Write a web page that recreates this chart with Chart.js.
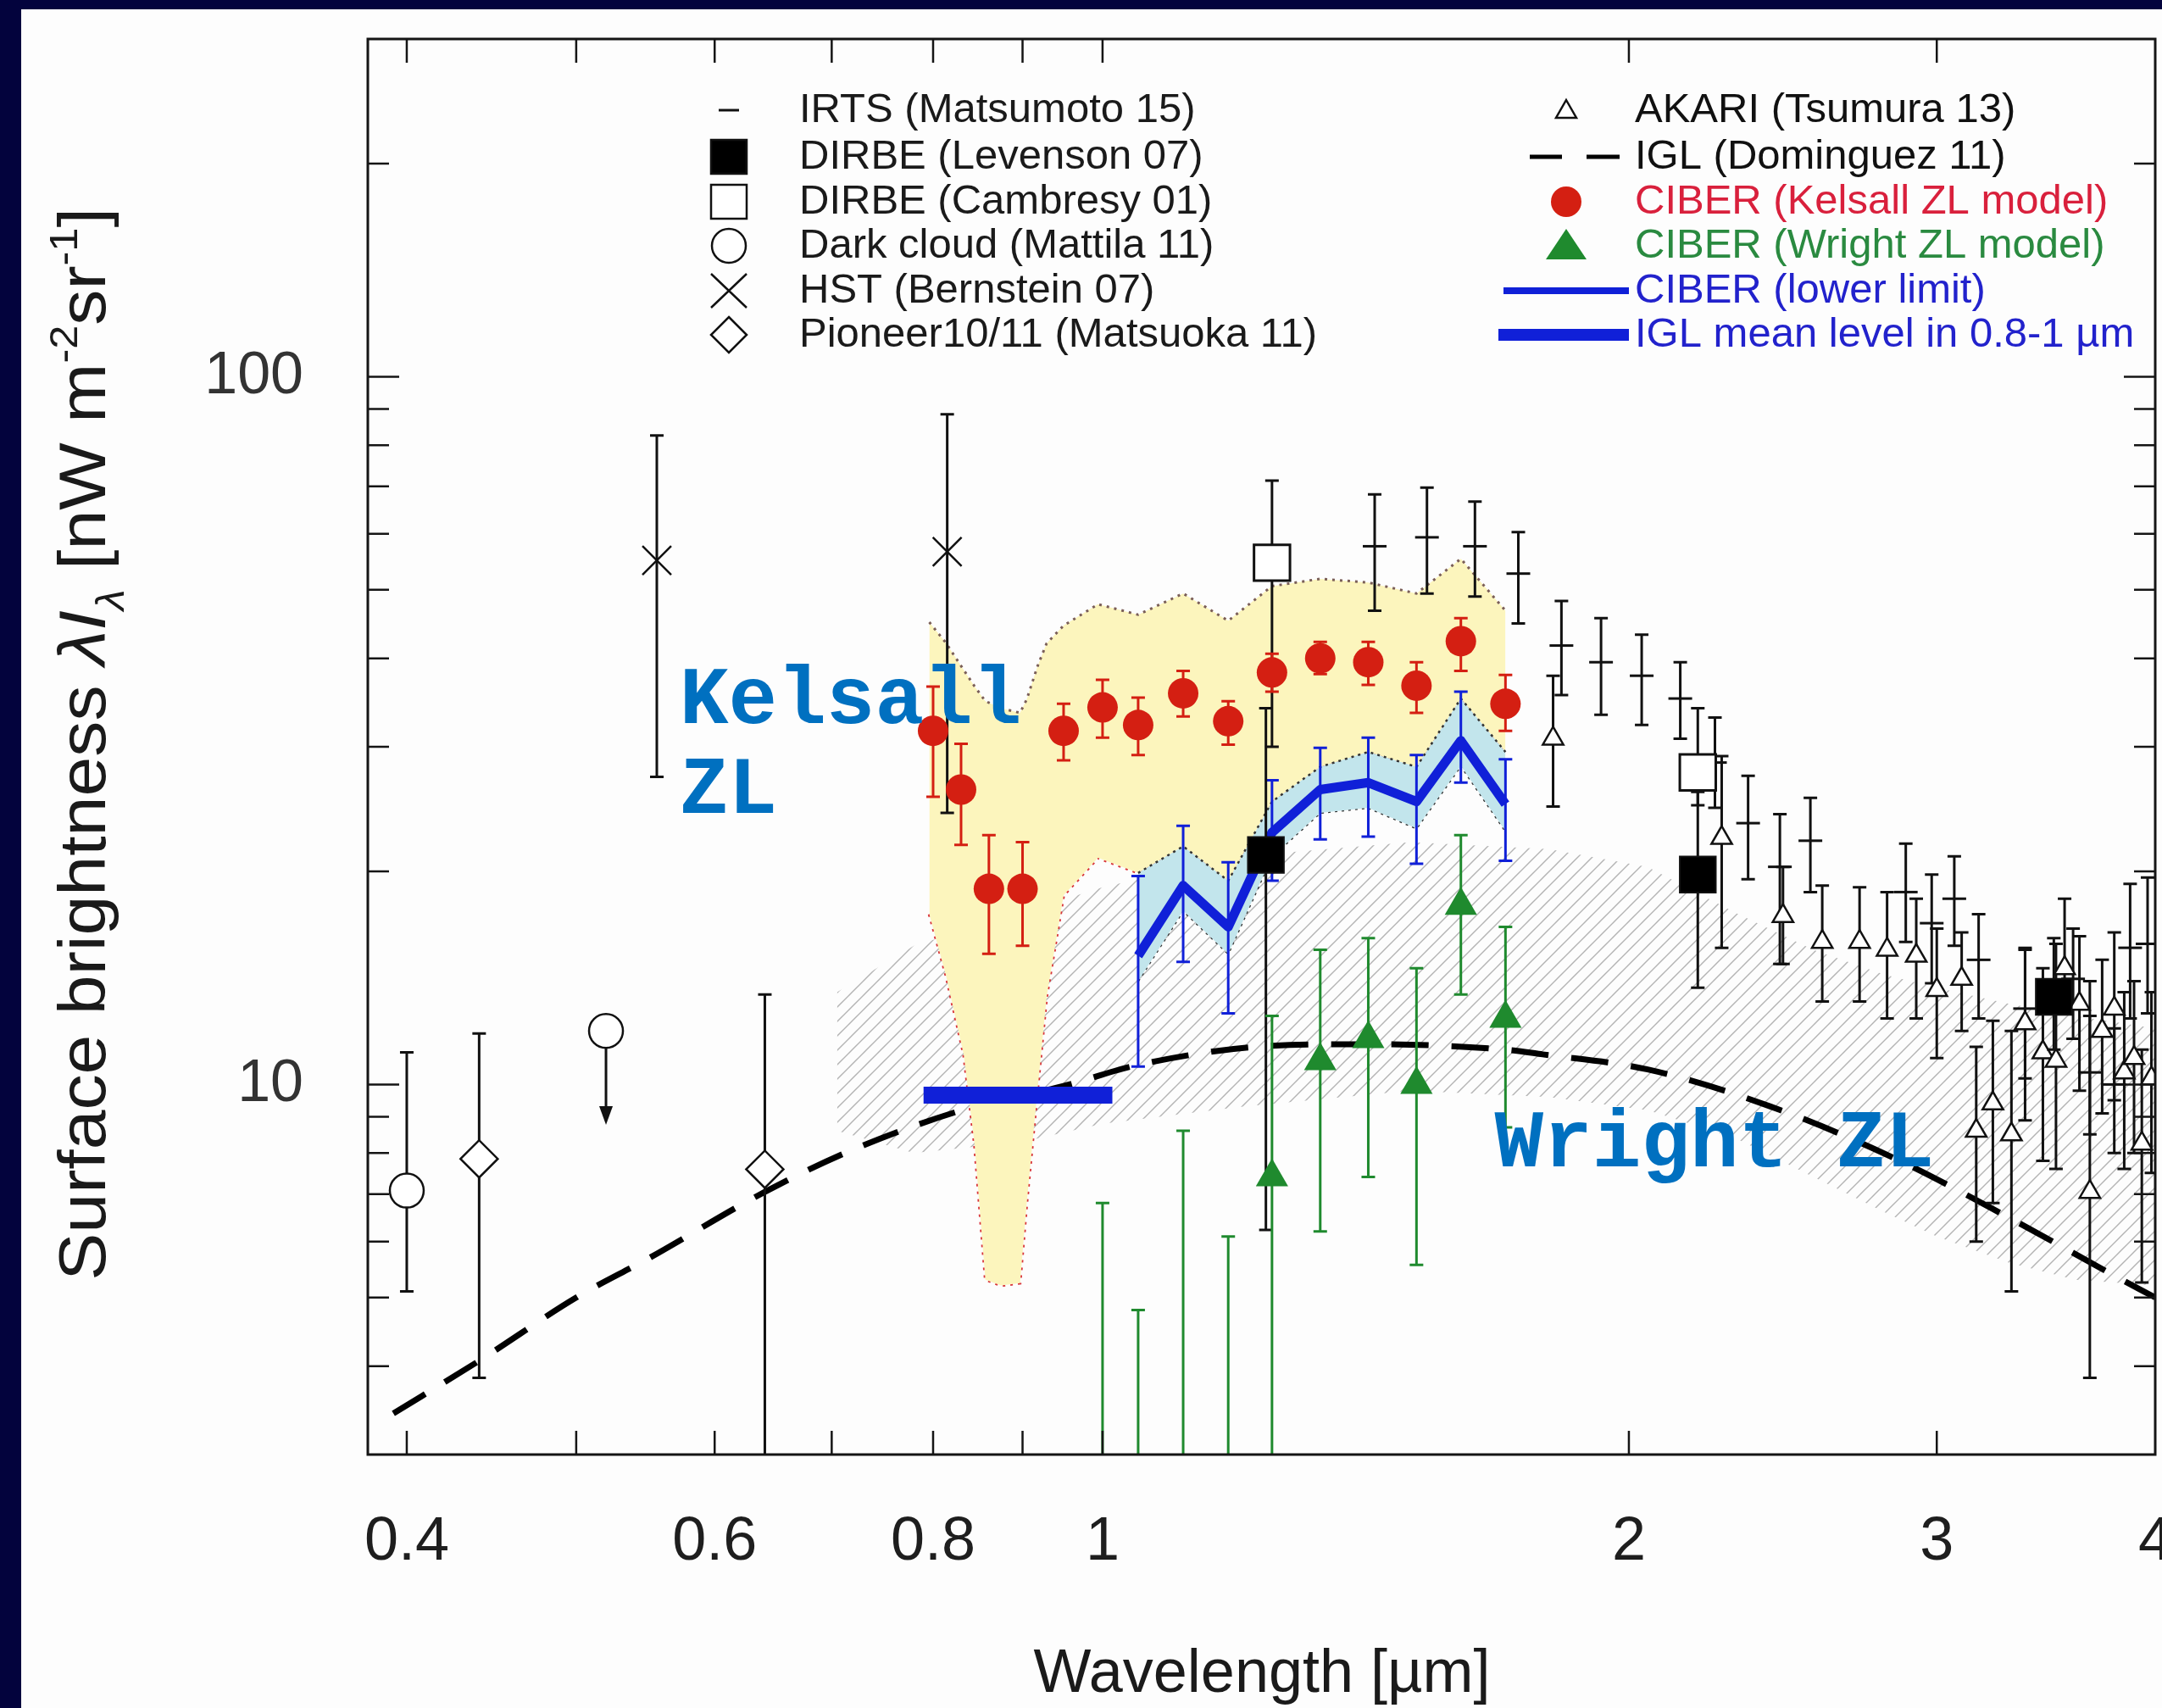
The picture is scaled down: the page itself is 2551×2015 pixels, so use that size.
<!DOCTYPE html>
<html>
<head>
<meta charset="utf-8">
<script src="https://cdn.jsdelivr.net/npm/chart.js@4.4.0/dist/chart.umd.min.js"></script>
<style>
  html, body { margin: 0; padding: 0; background: #03033d; }
  #wrap { width: 2551px; height: 2015px; }
</style>
</head>
<body>
<div id="wrap"><canvas id="sed" width="2551" height="2015"></canvas></div>
<script>
// EBL / NIR background spectrum: wavelength in um, brightness in nW m^-2 sr^-1

// axis ticks
const xTickLabels = [0.4, 0.6, 0.8, 1, 2, 3, 4];
const xTickMarks = [0.4, 0.5, 0.6, 0.7, 0.8, 0.9, 1, 2, 3];
const yTickLabels = [10, 100];
const yTickMinor = [4, 5, 6, 7, 8, 9, 20, 30, 40, 50, 60, 70, 80, 90, 200];

// IRTS (Matsumoto 15)
const irtsX  = [1.431, 1.533, 1.633, 1.729, 1.83, 1.928, 2.034, 2.14, 2.24, 2.34, 2.44, 2.54, 2.88, 2.98, 3.07, 3.17, 3.37, 3.59, 3.67, 3.79, 3.87, 3.96];
const irtsY  = [57.6, 59.3, 57.6, 52.7, 41.7, 39.5, 37.8, 35.1, 28.5, 23.4, 20.3, 22.1, 18.7, 16.9, 18.3, 15.0, 12.8, 14.1, 10.4, 10.0, 15.6, 15.8];
const irtsLo = [46.7, 49.4, 48.9, 44.8, 35.5, 33.3, 32.2, 30.8, 24.6, 19.5, 14.8, 18.7, 15.9, 13.9, 15.7, 12.4, 10.2, 11.6, 8.5, 8.0, 12.4, 12.6];
const irtsHi = [68.2, 69.7, 66.6, 60.3, 48.2, 45.6, 43.2, 39.5, 33.0, 27.3, 24.1, 25.4, 21.9, 19.8, 21.0, 17.4, 15.6, 16.6, 12.5, 12.0, 19.2, 19.6];

// DIRBE (Levenson 07) and DIRBE (Cambresy 01)
const levX  = [1.24, 2.19, 3.50];
const levY  = [21.1, 19.8, 13.3];
const levLo = [6.23, 13.7, 11.2];
const levHi = [34.0, 25.9, 16.1];
const camX  = [1.25, 2.19];
const camY  = [54.6, 27.6];
const camLo = [30.0, 24.8];
const camHi = [71.3, 34.0];

// Dark cloud (Mattila 11): one measurement and one upper limit
const dcX  = [0.40];
const dcY  = [7.08];
const dcLo = [5.1];
const dcHi = [11.1];
const dcLimX = [0.52];
const dcLimY = [11.9];
const dcLimTo = [8.77];

// HST (Bernstein 07)
const hstX  = [0.556, 0.815];
const hstY  = [55.0, 56.6];
const hstLo = [27.2, 24.2];
const hstHi = [82.6, 88.5];

// Pioneer10/11 (Matsuoka 11)
const pnX  = [0.44, 0.641];
const pnY  = [7.85, 7.59];
const pnLo = [3.85, 2.0];
const pnHi = [11.8, 13.4];

// AKARI (Tsumura 13)
const akX  = [1.81, 2.26, 2.45, 2.58, 2.71, 2.81, 2.92, 3.00, 3.10, 3.16, 3.23, 3.31, 3.37, 3.45, 3.51, 3.55, 3.62, 3.67, 3.73, 3.79, 3.84, 3.89, 3.93, 3.98];
const akY  = [30.8, 22.3, 17.3, 15.9, 15.9, 15.5, 15.2, 13.6, 14.1, 8.6, 9.4, 8.5, 12.2, 11.1, 10.8, 14.6, 13.0, 7.05, 11.9, 12.8, 10.4, 10.9, 8.25, 10.2];
const akLo = [24.7, 15.6, 14.8, 13.1, 13.1, 12.4, 12.4, 10.9, 11.9, 6.0, 6.8, 5.1, 8.9, 7.8, 7.6, 12.6, 9.8, 3.85, 9.1, 9.5, 7.6, 8.0, 5.25, 7.5];
const akHi = [37.8, 29.1, 20.3, 19.1, 19.0, 18.7, 18.3, 16.6, 16.4, 11.3, 12.3, 11.9, 15.5, 14.6, 15.8, 18.3, 16.2, 14.0, 15.0, 16.4, 13.5, 14.0, 11.2, 13.5];

// IGL (Dominguez 11) model curve
const iglX = [0.393, 0.44, 0.5, 0.55, 0.641, 0.72, 0.841, 0.95, 1.048, 1.25, 1.42, 1.7, 1.785, 2.05, 2.41, 2.83, 3.32, 3.8, 4.0];
const iglY = [3.43, 4.07, 5.0, 5.68, 7.05, 8.09, 9.28, 9.95, 10.66, 11.34, 11.4, 11.2, 11.03, 10.5, 9.31, 7.89, 6.43, 5.35, 5.0];

// IGL mean level in 0.8-1 um
const iglMeanX = [0.79, 1.013];
const iglMeanY = [9.66, 9.66];

// CIBER with Kelsall ZL model
const kelX  = [0.80, 0.83, 0.861, 0.90, 0.95, 1.0, 1.048, 1.112, 1.18, 1.25, 1.332, 1.419, 1.512, 1.603, 1.70];
const kelY  = [31.6, 26.1, 18.9, 18.9, 31.6, 34.1, 32.2, 35.7, 32.6, 38.2, 40.0, 39.5, 36.6, 42.3, 34.5];
const kelLo = [25.5, 21.8, 15.3, 15.7, 28.7, 30.9, 29.2, 33.1, 30.2, 35.9, 38.0, 36.7, 33.5, 38.4, 31.6];
const kelHi = [36.5, 30.3, 22.5, 22.0, 34.5, 37.3, 35.2, 38.4, 34.8, 40.6, 42.2, 42.2, 39.5, 45.6, 37.9];

// CIBER with Wright ZL model (first four fall below the plotted range)
const wriX  = [1.0, 1.048, 1.112, 1.18, 1.25, 1.332, 1.419, 1.512, 1.603, 1.70];
const wriY  = [2.2, 1.6, 2.8, 2.0, 7.4, 10.8, 11.6, 10.0, 17.9, 12.4];
const wriLo = [0.8, 0.6, 0.9, 0.7, 2.0, 6.2, 7.4, 5.56, 13.4, 8.7];
const wriHi = [6.8, 4.8, 8.6, 6.1, 12.5, 15.5, 16.1, 14.6, 22.5, 16.7];

// CIBER lower limit
const lowX  = [1.048, 1.112, 1.18, 1.25, 1.332, 1.419, 1.512, 1.603, 1.70];
const lowY  = [15.2, 19.1, 16.7, 22.7, 26.1, 26.7, 25.1, 30.6, 24.9];
const lowLo = [10.6, 14.9, 12.6, 19.4, 22.2, 22.4, 20.5, 26.7, 20.7];
const lowHi = [19.7, 23.2, 20.6, 26.9, 29.9, 30.9, 29.2, 35.9, 28.8];

// band around the lower limit
const lowBandUp  = [19.9, 21.7, 19.4, 25.1, 28.1, 29.5, 28.1, 35.1, 29.5];
const lowBandLow = [14.0, 17.6, 15.3, 21.0, 24.2, 24.6, 23.0, 28.2, 22.8];

// Kelsall systematic band
const kbX   = [0.796, 0.814, 0.833, 0.845, 0.857, 0.875, 0.897, 0.905, 0.918, 0.929, 0.95, 0.994, 1.048, 1.112, 1.18, 1.25, 1.332, 1.419, 1.512, 1.603, 1.70];
const kbUp  = [45.0, 42.0, 38.5, 36.5, 34.8, 34.0, 33.5, 35.0, 39.0, 42.0, 44.5, 47.7, 46.1, 49.4, 45.2, 50.6, 51.8, 51.2, 49.4, 55.3, 46.7];
const kbLow = [17.4, 14.2, 11.0, 8.2, 5.3, 5.2, 5.24, 6.8, 9.84, 13.3, 18.5, 20.9, 19.9, 21.7, 19.4, 25.1, 28.1, 29.5, 28.1, 35.1, 29.5];

// Wright ZL uncertainty (hatched)
const hbX   = [0.705, 0.78, 0.9, 1.0, 1.2, 1.5, 1.8, 2.05, 2.3, 2.55, 2.8, 3.0, 3.3, 3.6, 4.0];
const hbUp  = [13.5, 15.7, 17.5, 19.0, 21.0, 22.0, 21.5, 20.3, 17.5, 15.5, 14.3, 13.7, 13.0, 12.5, 12.0];
const hbLow = [8.6, 8.0, 8.3, 8.8, 9.3, 9.8, 9.6, 9.2, 8.4, 7.4, 6.6, 6.1, 5.6, 5.3, 5.2];

const RED = '#d41f12';
const GREEN = '#1f8a2e';
const BLUE = '#1020d8';
const SANS = "'Liberation Sans', Arial, sans-serif";

const pts = (xs, ys) => xs.map((x, i) => ({ x: x, y: ys[i] }));

function hatchPattern() {
  const s = 17;
  const c = document.createElement('canvas');
  c.width = s; c.height = s;
  const g = c.getContext('2d');
  g.strokeStyle = 'rgba(125,125,125,0.58)';
  g.lineWidth = 1.4;
  g.beginPath();
  g.moveTo(0, s); g.lineTo(s, 0);
  g.moveTo(-s / 2, s / 2); g.lineTo(s / 2, -s / 2);
  g.moveTo(s / 2, s * 1.5); g.lineTo(s * 1.5, s / 2);
  g.stroke();
  return g.createPattern(c, 'repeat');
}

const datasets = [];
function add(ds) { datasets.push(ds); return datasets.length - 1; }

const lineBase = { showLine: true, pointRadius: 0, tension: 0 };

// hatched band
const hbLowIdx = datasets.length + 1;
add(Object.assign({}, lineBase, { label: 'Wright band', data: pts(hbX, hbUp), borderWidth: 0,
  backgroundColor: hatchPattern(), fill: { target: hbLowIdx }, order: 100 }));
add(Object.assign({}, lineBase, { label: 'Wright band low', data: pts(hbX, hbLow), borderWidth: 0, fill: false, order: 100 }));

// IGL model
add(Object.assign({}, lineBase, { label: 'IGL (Dominguez 11)', data: pts(iglX, iglY), borderColor: '#000',
  borderWidth: 7, borderDash: [44, 27], cubicInterpolationMode: 'monotone', fill: false, order: 95 }));

// Kelsall band
const kbLowIdx = datasets.length + 1;
add(Object.assign({}, lineBase, { label: 'Kelsall band', data: pts(kbX, kbUp), borderColor: '#7a5e58',
  borderWidth: 3, borderDash: [3, 6], backgroundColor: '#fcf5bd', fill: { target: kbLowIdx }, order: 90 }));
add(Object.assign({}, lineBase, { label: 'Kelsall band low', data: pts(kbX, kbLow), borderColor: '#d8343a',
  borderWidth: 3.5, borderDash: [3, 6], fill: false, order: 90 }));

// lower-limit band
const lbLowIdx = datasets.length + 1;
add(Object.assign({}, lineBase, { label: 'lower limit band', data: pts(lowX, lowBandUp), borderColor: '#333',
  borderWidth: 2.5, borderDash: [3, 5], backgroundColor: '#c2e5ec', fill: { target: lbLowIdx }, order: 85 }));
add(Object.assign({}, lineBase, { label: 'lower limit band low', data: pts(lowX, lowBandLow), borderColor: '#333',
  borderWidth: 2.5, borderDash: [3, 5], fill: false, order: 85 }));

// IGL mean level
add(Object.assign({}, lineBase, { label: 'IGL mean level in 0.8-1 µm', data: pts(iglMeanX, iglMeanY),
  borderColor: BLUE, borderWidth: 20, borderCapStyle: 'butt', fill: false, order: 60 }));

// point datasets
add({ label: 'Dark cloud (Mattila 11)', data: pts(dcX, dcY), errLo: dcLo, errHi: dcHi, errColor: '#111',
  pointStyle: 'circle', pointRadius: 20, pointBorderWidth: 2.5, pointBorderColor: '#111', pointBackgroundColor: '#fff', order: 50 });
add({ label: 'Dark cloud limit', data: pts(dcLimX, dcLimY), arrowTo: dcLimTo, errColor: '#111',
  pointStyle: 'circle', pointRadius: 20, pointBorderWidth: 2.5, pointBorderColor: '#111', pointBackgroundColor: '#fff', order: 50 });
add({ label: 'Pioneer10/11 (Matsuoka 11)', data: pts(pnX, pnY), errLo: pnLo, errHi: pnHi, errColor: '#111',
  pointStyle: 'rectRot', pointRadius: 22, pointBorderWidth: 2.5, pointBorderColor: '#111', pointBackgroundColor: '#fff', order: 50 });
add({ label: 'HST (Bernstein 07)', data: pts(hstX, hstY), errLo: hstLo, errHi: hstHi, errColor: '#111',
  pointStyle: 'crossRot', pointRadius: 24, pointBorderWidth: 2.5, pointBorderColor: '#111', order: 50 });
add({ label: 'IRTS (Matsumoto 15)', data: pts(irtsX, irtsY), errLo: irtsLo, errHi: irtsHi, errColor: '#111',
  pointStyle: 'line', pointRadius: 14, pointBorderWidth: 3, pointBorderColor: '#111', order: 45 });
add({ label: 'AKARI (Tsumura 13)', data: pts(akX, akY), errLo: akLo, errHi: akHi, errColor: '#111',
  pointStyle: 'triangle', pointRadius: 14, pointBorderWidth: 2.5, pointBorderColor: '#111', pointBackgroundColor: '#fff', order: 44 });

// CIBER lower limit
add(Object.assign({}, lineBase, { label: 'CIBER (lower limit)', data: pts(lowX, lowY), errLo: lowLo, errHi: lowHi,
  errColor: BLUE, borderColor: BLUE, borderWidth: 11, borderJoinStyle: 'round', fill: false, order: 35 }));

add({ label: 'DIRBE (Cambresy 01)', data: pts(camX, camY), errLo: camLo, errHi: camHi, errColor: '#111',
  pointStyle: 'rect', pointRadius: 30, pointBorderWidth: 3, pointBorderColor: '#111', pointBackgroundColor: '#fff', order: 32 });
add({ label: 'DIRBE (Levenson 07)', data: pts(levX, levY), errLo: levLo, errHi: levHi, errColor: '#111',
  pointStyle: 'rect', pointRadius: 30, pointBorderWidth: 2, pointBorderColor: '#111', pointBackgroundColor: '#000', order: 31 });

add({ label: 'CIBER (Kelsall ZL model)', data: pts(kelX, kelY), errLo: kelLo, errHi: kelHi, errColor: RED,
  pointStyle: 'circle', pointRadius: 18, pointBorderWidth: 0, pointBackgroundColor: RED, order: 20 });
add({ label: 'CIBER (Wright ZL model)', data: pts(wriX, wriY), errLo: wriLo, errHi: wriHi, errColor: GREEN,
  pointStyle: 'triangle', pointRadius: 22, pointBorderWidth: 0, pointBackgroundColor: GREEN, order: 10 });

// white sheet on the navy slide
const background = {
  id: 'background',
  beforeDraw(chart) {
    const { ctx, width, height } = chart;
    ctx.save();
    ctx.fillStyle = '#03033d';
    ctx.fillRect(0, 0, width, height);
    ctx.fillStyle = '#fdfdfd';
    ctx.fillRect(25, 11, width - 25, height - 11);
    ctx.restore();
  }
};

// vertical error bars, upper-limit arrows
const errorBars = {
  id: 'errorBars',
  beforeDatasetDraw(chart, args) {
    const ds = chart.data.datasets[args.index];
    if (!ds.errLo && !ds.arrowTo) return;
    const { ctx, chartArea: a, scales: { x, y } } = chart;
    ctx.save();
    ctx.beginPath();
    ctx.rect(a.left, a.top, a.right - a.left, a.bottom - a.top);
    ctx.clip();
    ctx.strokeStyle = ds.errColor;
    ctx.fillStyle = ds.errColor;
    ctx.lineWidth = 3;
    ds.data.forEach((p, i) => {
      const px = x.getPixelForValue(p.x);
      if (ds.arrowTo) {
        const py = y.getPixelForValue(p.y);
        const tip = y.getPixelForValue(ds.arrowTo[i]);
        ctx.beginPath();
        ctx.moveTo(px, py); ctx.lineTo(px, tip - 14);
        ctx.stroke();
        ctx.beginPath();
        ctx.moveTo(px - 8, tip - 22); ctx.lineTo(px + 8, tip - 22); ctx.lineTo(px, tip);
        ctx.closePath(); ctx.fill();
        return;
      }
      const top = y.getPixelForValue(ds.errHi[i]);
      const bot = y.getPixelForValue(ds.errLo[i]);
      const c = 8;
      ctx.beginPath();
      ctx.moveTo(px, top); ctx.lineTo(px, bot);
      ctx.moveTo(px - c, top); ctx.lineTo(px + c, top);
      ctx.moveTo(px - c, bot); ctx.lineTo(px + c, bot);
      ctx.stroke();
    });
    ctx.restore();
  }
};

// plot frame with inward ticks on all four sides, x tick labels
const frameTicks = {
  id: 'frameTicks',
  afterDatasetsDraw(chart) {
    const { ctx, chartArea: a, scales: { x, y } } = chart;
    ctx.save();
    ctx.strokeStyle = '#151515';
    ctx.lineWidth = 2.5;
    ctx.beginPath();
    xTickMarks.forEach(v => {
      const px = x.getPixelForValue(v);
      ctx.moveTo(px, a.bottom); ctx.lineTo(px, a.bottom - 28);
      ctx.moveTo(px, a.top); ctx.lineTo(px, a.top + 28);
    });
    yTickMinor.forEach(v => {
      const py = y.getPixelForValue(v);
      ctx.moveTo(a.left, py); ctx.lineTo(a.left + 25, py);
      ctx.moveTo(a.right, py); ctx.lineTo(a.right - 25, py);
    });
    yTickLabels.forEach(v => {
      const py = y.getPixelForValue(v);
      ctx.moveTo(a.left, py); ctx.lineTo(a.left + 37, py);
      ctx.moveTo(a.right, py); ctx.lineTo(a.right - 37, py);
    });
    ctx.stroke();
    ctx.lineWidth = 3;
    ctx.strokeRect(a.left, a.top, a.right - a.left, a.bottom - a.top);

    ctx.fillStyle = '#1e1e1e';
    ctx.font = '72px ' + SANS;
    ctx.textAlign = 'center';
    ctx.textBaseline = 'alphabetic';
    xTickLabels.forEach(v => ctx.fillText(String(v), x.getPixelForValue(v), a.bottom + 124));
    ctx.restore();
  }
};

function drawRuns(ctx, runs, x0, y0) {
  let x = x0;
  runs.forEach(r => {
    ctx.font = r.font;
    ctx.fillText(r.t, x, y0 + (r.dy || 0));
    x += ctx.measureText(r.t).width;
  });
}
function runsWidth(ctx, runs) {
  return runs.reduce((w, r) => { ctx.font = r.font; return w + ctx.measureText(r.t).width; }, 0);
}

function legendMarker(ctx, kind, cx, cy) {
  ctx.save();
  ctx.strokeStyle = '#111';
  ctx.fillStyle = '#fff';
  ctx.lineWidth = 2.5;
  ctx.beginPath();
  if (kind === 'dash') {
    ctx.lineWidth = 3;
    ctx.moveTo(cx - 12, cy); ctx.lineTo(cx + 12, cy); ctx.stroke();
  } else if (kind === 'fsquare' || kind === 'osquare') {
    ctx.fillStyle = kind === 'fsquare' ? '#000' : '#fff';
    ctx.rect(cx - 21, cy - 20, 42, 40); ctx.fill(); ctx.stroke();
  } else if (kind === 'circle') {
    ctx.arc(cx, cy, 20, 0, Math.PI * 2); ctx.fill(); ctx.stroke();
  } else if (kind === 'cross') {
    ctx.moveTo(cx - 21, cy - 20); ctx.lineTo(cx + 21, cy + 20);
    ctx.moveTo(cx + 21, cy - 20); ctx.lineTo(cx - 21, cy + 20); ctx.stroke();
  } else if (kind === 'diamond') {
    ctx.moveTo(cx, cy - 21); ctx.lineTo(cx + 21, cy); ctx.lineTo(cx, cy + 21); ctx.lineTo(cx - 21, cy);
    ctx.closePath(); ctx.fill(); ctx.stroke();
  } else if (kind === 'otri') {
    ctx.moveTo(cx, cy - 12); ctx.lineTo(cx + 12, cy + 9); ctx.lineTo(cx - 12, cy + 9);
    ctx.closePath(); ctx.fill(); ctx.stroke();
  } else if (kind === 'dashed') {
    ctx.lineWidth = 5; ctx.strokeStyle = '#000';
    ctx.moveTo(1805, cy); ctx.lineTo(1843, cy);
    ctx.moveTo(1872, cy); ctx.lineTo(1911, cy); ctx.stroke();
  } else if (kind === 'rdot') {
    ctx.fillStyle = RED;
    ctx.arc(cx, cy, 18, 0, Math.PI * 2); ctx.fill();
  } else if (kind === 'gtri') {
    ctx.fillStyle = GREEN;
    ctx.moveTo(cx, cy - 20); ctx.lineTo(cx + 24, cy + 16); ctx.lineTo(cx - 24, cy + 16);
    ctx.closePath(); ctx.fill();
  } else if (kind === 'bline' || kind === 'bbar') {
    ctx.strokeStyle = BLUE;
    ctx.lineWidth = kind === 'bline' ? 8 : 14;
    ctx.moveTo(kind === 'bline' ? 1774 : 1768, cy); ctx.lineTo(1922, cy); ctx.stroke();
  }
  ctx.restore();
}

const legendRows = [130, 185, 238, 290, 343, 395];
const legendLeft = [
  ['dash', 'IRTS (Matsumoto 15)'], ['fsquare', 'DIRBE (Levenson 07)'], ['osquare', 'DIRBE (Cambresy 01)'],
  ['circle', 'Dark cloud (Mattila 11)'], ['cross', 'HST (Bernstein 07)'], ['diamond', 'Pioneer10/11 (Matsuoka 11)']
];
const legendRight = [
  ['otri', 'AKARI (Tsumura 13)', '#111'], ['dashed', 'IGL (Dominguez 11)', '#111'],
  ['rdot', 'CIBER (Kelsall ZL model)', '#d9203c'], ['gtri', 'CIBER (Wright ZL model)', '#2a8a40'],
  ['bline', 'CIBER (lower limit)', '#2222cc'], ['bbar', 'IGL mean level in 0.8-1 µm', '#2222cc']
];

// legend, axis titles and the ZL labels
const decorations = {
  id: 'decorations',
  afterDraw(chart) {
    const { ctx, chartArea: a, scales: { x, y } } = chart;
    ctx.save();
    ctx.textBaseline = 'middle';
    ctx.font = '49px ' + SANS;
    legendLeft.forEach((e, i) => {
      legendMarker(ctx, e[0], 860, legendRows[i]);
      ctx.fillStyle = '#1a1a1a';
      ctx.fillText(e[1], 943, legendRows[i]);
    });
    legendRight.forEach((e, i) => {
      legendMarker(ctx, e[0], 1848, legendRows[i]);
      ctx.font = '49px ' + SANS;
      ctx.fillStyle = e[2];
      ctx.fillText(e[1], 1929, legendRows[i]);
    });

    // y title, rotated, with sub/superscripts
    const F = 78;
    const f = (s, st) => (st || '') + ' ' + s + 'px ' + SANS;
    const yRuns = [
      { t: 'Surface brightness ', font: f(F) },
      { t: 'λI', font: f(F, 'italic') },
      { t: 'λ', font: f(F * 0.6, 'italic'), dy: F * 0.28 },
      { t: ' [nW m', font: f(F) },
      { t: '-2', font: f(F * 0.6), dy: -F * 0.42 },
      { t: 'sr', font: f(F) },
      { t: '-1', font: f(F * 0.6), dy: -F * 0.42 },
      { t: ']', font: f(F) }
    ];
    ctx.fillStyle = '#1a1a1a';
    ctx.textBaseline = 'alphabetic';
    ctx.translate(124, 878);
    ctx.rotate(-Math.PI / 2);
    ctx.scale(1.08, 1);
    drawRuns(ctx, yRuns, -runsWidth(ctx, yRuns) / 2, 0);
    ctx.setTransform(1, 0, 0, 1, 0, 0);

    // x title
    ctx.font = '72px ' + SANS;
    ctx.textAlign = 'center';
    ctx.fillText('Wavelength [µm]', 1489, 1996);

    // ZL annotations
    ctx.textAlign = 'left';
    ctx.fillStyle = '#0070c0';
    ctx.font = "bold 96px 'Courier New', 'Liberation Mono', monospace";
    const kx = x.getPixelForValue(0.573);
    ctx.fillText('Kelsall', kx, y.getPixelForValue(32.4));
    ctx.fillText('ZL', kx, y.getPixelForValue(24.2));
    ctx.fillText('Wright ZL', x.getPixelForValue(1.676), y.getPixelForValue(7.66));
    ctx.restore();
  }
};

new Chart(document.getElementById('sed'), {
  type: 'scatter',
  data: { datasets: datasets },
  options: {
    responsive: false,
    animation: false,
    devicePixelRatio: 1,
    layout: { autoPadding: false, padding: { top: 46, right: 8, bottom: 0, left: 0 } },
    plugins: { legend: { display: false }, tooltip: { enabled: false }, filler: { propagate: false } },
    scales: {
      x: {
        type: 'logarithmic', min: 0.38, max: 4,
        grid: { display: false, drawTicks: false }, border: { display: false },
        afterFit: s => { s.height = 299; s.paddingLeft = 0; s.paddingRight = 0; },
        ticks: { display: false }
      },
      y: {
        type: 'logarithmic', min: 3, max: 300,
        grid: { display: false, drawTicks: false }, border: { display: false },
        afterBuildTicks: s => { s.ticks = yTickLabels.map(v => ({ value: v })); },
        afterFit: s => { s.width = 434; s.paddingTop = 0; s.paddingBottom = 0; },
        ticks: { autoSkip: false, padding: 76, color: '#333',
          font: { family: SANS, size: 70 }, callback: v => String(v) }
      }
    }
  },
  plugins: [background, errorBars, frameTicks, decorations]
});
</script>
</body>
</html>
